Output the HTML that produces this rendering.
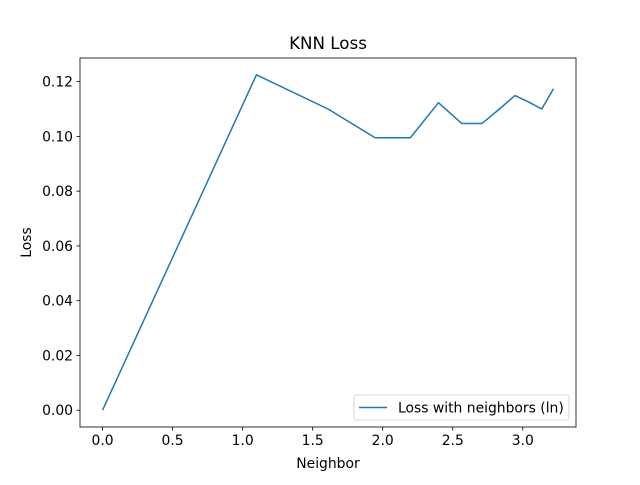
<!DOCTYPE html>
<html><head><meta charset="utf-8"><style>
body{margin:0;background:#fff}
svg text{font-family:"DejaVu Sans","Liberation Sans",sans-serif;fill:#000}
</style></head><body>
<svg width="640" height="480" viewBox="0 0 640 480">
<rect x="0" y="0" width="640" height="480" fill="#fff"/>
<g id="ticks"></g>
<polyline id="line" fill="none" stroke="#1f77b4" stroke-width="1.5" stroke-linejoin="round"/>
<rect x="80" y="58" width="496" height="369" fill="none" stroke="#000" stroke-width="0.8"/>
<text x="328" y="49" font-size="16.7" text-anchor="middle">KNN Loss</text>
<text x="328" y="468" font-size="13.9" text-anchor="middle">Neighbor</text>
<text x="31" y="242.5" font-size="13.9" text-anchor="middle" transform="rotate(-90 31 242.5)">Loss</text>
<g>
<rect x="354" y="395" width="215" height="25" rx="2" fill="#fff" fill-opacity="0.8" stroke="#ccc" stroke-width="0.8"/>
<line x1="359" y1="407.5" x2="387" y2="407.5" stroke="#1f77b4" stroke-width="1.5"/>
<text x="398" y="412.5" font-size="13.9">Loss with neighbors (ln)</text>
</g>
</svg>
<script>
const neighbors=[1,3,5,7,9,11,13,15,17,19,21,23,25];
const losses=[0,0.1225,0.11,0.0995,0.0995,0.1123,0.1047,0.1047,0.11,0.1149,0.1125,0.11,0.1174];
const xTicks=[0,0.5,1.0,1.5,2.0,2.5,3.0];
const yTicks=[0,0.02,0.04,0.06,0.08,0.10,0.12];
const xs=neighbors.map(n=>Math.log(n));
const xmin=Math.min(...xs),xmax=Math.max(...xs),xr=xmax-xmin;
const ymin=Math.min(...losses),ymax=Math.max(...losses),yr=ymax-ymin;
const x0=xmin-0.05*xr,x1=xmax+0.05*xr,y0=ymin-0.05*yr,y1=ymax+0.05*yr;
const L=80,R=576,T=58,B=427;
const sx=v=>L+(v-x0)/(x1-x0)*(R-L);
const sy=v=>B-(v-y0)/(y1-y0)*(B-T);
const NS="http://www.w3.org/2000/svg";
const line=document.getElementById('line');
line.setAttribute('points',xs.map((x,i)=>sx(x).toFixed(2)+','+sy(losses[i]).toFixed(2)).join(' '));
const g=document.getElementById('ticks');
function mk(tag,attrs,txt){const e=document.createElementNS(NS,tag);for(const k in attrs)e.setAttribute(k,attrs[k]);if(txt!=null)e.textContent=txt;g.appendChild(e);return e;}
xTicks.forEach(t=>{const x=sx(t);
const tl=mk('line',{x1:x,x2:x,y1:B,y2:B+3.5,stroke:'#000','stroke-width':0.8});


const tx=mk('text',{x:x,y:B+18,'font-size':13.9,'text-anchor':'middle'},t.toFixed(1));


});
yTicks.forEach(t=>{const y=sy(t);
const tl=mk('line',{x1:L-3.5,x2:L,y1:y,y2:y,stroke:'#000','stroke-width':0.8});


const tx=mk('text',{x:L-7,y:y+5,'font-size':13.9,'text-anchor':'end'},t.toFixed(2));


});
</script>
</body></html>
